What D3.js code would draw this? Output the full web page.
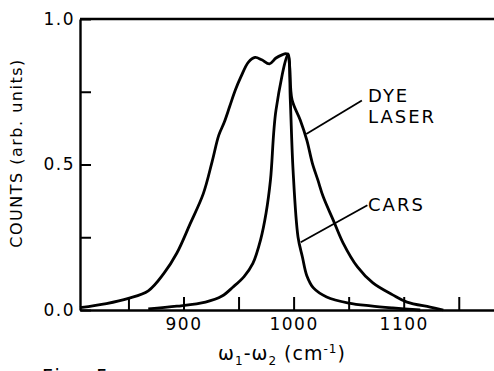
<!DOCTYPE html>
<html>
<head>
<meta charset="utf-8">
<script src="https://cdn.jsdelivr.net/npm/d3@7"></script>
<style>
  body { margin: 0; background: #fff; }
  text { font-family: "DejaVu Sans", sans-serif; fill: #000; }
</style>
</head>
<body>
<div id="chart"></div>
<script>
// wavenumber (cm-1) and counts
const dyeX = [806, 830, 850, 868, 882, 894, 906, 918, 926, 932, 937, 942, 947, 952, 959, 965, 971, 978, 984, 989, 994, 998.6, 1006, 1012, 1017, 1022, 1027, 1036, 1045, 1058, 1072, 1090, 1103, 1124, 1136];
const dyeY = [0.008, 0.022, 0.040, 0.066, 0.125, 0.196, 0.296, 0.400, 0.510, 0.600, 0.645, 0.700, 0.755, 0.800, 0.852, 0.868, 0.860, 0.846, 0.866, 0.876, 0.880, 0.722, 0.653, 0.584, 0.505, 0.447, 0.388, 0.309, 0.230, 0.148, 0.093, 0.052, 0.027, 0.010, 0.0];

const carsX = [868, 894, 920, 935, 945, 955, 963, 970, 975, 979, 984, 995, 997, 999.5, 1004, 1008, 1012, 1018, 1030, 1050, 1070, 1090, 1115];
const carsY = [0.004, 0.013, 0.027, 0.048, 0.079, 0.115, 0.160, 0.241, 0.333, 0.447, 0.687, 0.880, 0.722, 0.481, 0.251, 0.182, 0.118, 0.076, 0.045, 0.024, 0.014, 0.007, 0.0];

const xTicks = [850, 900, 950, 1000, 1050, 1100, 1150];
const xLabels = {900: "900", 1000: "1000", 1100: "1100"};
const yTicks = [0, 0.25, 0.5, 0.75, 1];
const yLabels = {0: "0.0", 0.5: "0.5", 1: "1.0"};

const width = 494, height = 371;

const svg = d3.select("#chart").append("svg")
    .attr("width", width)
    .attr("height", height);

const x = d3.scaleLinear().domain([806, 1182]).range([80, 494]);
const y = d3.scaleLinear().domain([0, 1]).range([310, 19]);

// x axis, ticks pointing up into the plot
const xAxis = svg.append("g")
    .attr("transform", "translate(0," + y(0) + ")")
    .call(d3.axisBottom(x)
        .tickValues(xTicks)
        .tickSize(-13)
        .tickSizeOuter(0)
        .tickPadding(8)
        .tickFormat(d => xLabels[d] || ""));

// y axis, ticks pointing right
const yAxis = svg.append("g")
    .attr("transform", "translate(" + x(806) + ",0)")
    .call(d3.axisLeft(y)
        .tickValues(yTicks)
        .tickSize(-11)
        .tickSizeOuter(0)
        .tickPadding(5)
        .tickFormat(d => yLabels[d] || ""));

[xAxis, yAxis].forEach(g => {
    g.select(".domain").attr("stroke", "#000").attr("stroke-width", 2.4);
    g.selectAll(".tick line").attr("stroke", "#000").attr("stroke-width", 2);
    g.selectAll(".tick text")
        .style("font-size", "17px")
        .style("letter-spacing", "1.5px")
        .attr("fill", "#000");
});

// top frame line
svg.append("line")
    .attr("x1", x(806)).attr("x2", width)
    .attr("y1", y(1)).attr("y2", y(1))
    .attr("stroke", "#000").attr("stroke-width", 2.4);

const line = d3.line()
    .x(d => x(d[0]))
    .y(d => y(d[1]))
    .curve(d3.curveCatmullRom.alpha(0.5));

svg.append("path")
    .datum(dyeX.map((v, i) => [v, dyeY[i]]))
    .attr("d", line)
    .attr("fill", "none")
    .attr("stroke", "#000")
    .attr("stroke-width", 2.8)
    .attr("stroke-linejoin", "round");

svg.append("path")
    .datum(carsX.map((v, i) => [v, carsY[i]]))
    .attr("d", line)
    .attr("fill", "none")
    .attr("stroke", "#000")
    .attr("stroke-width", 2.8)
    .attr("stroke-linejoin", "round");

// labels with leader lines
svg.append("line")
    .attr("x1", x(1062)).attr("y1", y(0.72))
    .attr("x2", x(1011.5)).attr("y2", y(0.605))
    .attr("stroke", "#000").attr("stroke-width", 1.8);
svg.append("text").attr("x", 368).attr("y", 102)
    .style("font-size", "18px").style("letter-spacing", "2px").text("DYE");
svg.append("text").attr("x", 368).attr("y", 123)
    .style("font-size", "18px").style("letter-spacing", "2px").text("LASER");

svg.append("line")
    .attr("x1", x(1067)).attr("y1", y(0.36))
    .attr("x2", x(1006.5)).attr("y2", y(0.233))
    .attr("stroke", "#000").attr("stroke-width", 1.8);
svg.append("text").attr("x", 368).attr("y", 211)
    .style("font-size", "18px").style("letter-spacing", "2px").text("CARS");

// axis titles
svg.append("text")
    .attr("transform", "translate(22,153) rotate(-90)")
    .attr("text-anchor", "middle")
    .style("font-size", "16px")
    .style("letter-spacing", "1.5px")
    .text("COUNTS (arb. units)");

const xt = svg.append("text")
    .attr("x", 282).attr("y", 360)
    .attr("text-anchor", "middle")
    .style("font-size", "19px")
    .style("letter-spacing", "1px");
xt.append("tspan").text("ω");
xt.append("tspan").attr("dy", 5).style("font-size", "12px").text("1");
xt.append("tspan").attr("dy", -5).text("-ω");
xt.append("tspan").attr("dy", 5).style("font-size", "12px").text("2");
xt.append("tspan").attr("dy", -5).text(" (cm");
xt.append("tspan").attr("dy", -7).style("font-size", "12px").text("-1");
xt.append("tspan").attr("dy", 7).text(")");

// caption, mostly below the visible area as in the source scan
svg.append("text")
    .attr("x", 42).attr("y", 383)
    .style("font-size", "19px")
    .style("letter-spacing", "3px")
    .text("Fig. 5");
</script>
</body>
</html>
